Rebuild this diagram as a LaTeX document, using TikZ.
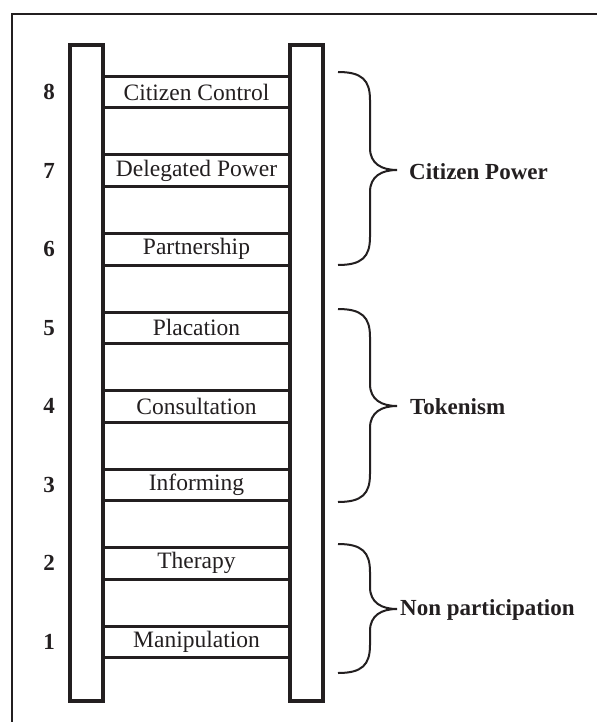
\documentclass[tikz,border=0pt]{standalone}
\usepackage{fontspec}
\setmainfont{Liberation Serif}
\definecolor{ink}{RGB}{35,31,32}
\begin{document}
\begin{tikzpicture}[x=1pt,y=-1pt,
  rungbox/.style={draw=ink, line width=3pt, minimum width=187pt, minimum height=31.5pt, inner sep=0pt, outer sep=0pt, text=ink, font=\fontsize{23.5}{23.5}\selectfont},
  railbox/.style={draw=ink, line width=4pt, minimum width=33pt, minimum height=656pt, inner sep=0pt, outer sep=0pt},
  numlabel/.style={text=ink, font=\bfseries\fontsize{23}{23}\selectfont},
  grouplabel/.style={text=ink, anchor=west, inner sep=0pt, font=\bfseries\fontsize{23}{23}\selectfont},
  bracepath/.style={draw=ink, line width=2pt},
  frameline/.style={draw=ink, line width=2pt}]
\useasboundingbox (0,0) rectangle (597,722);
\fill[white] (0,0) rectangle (597,722);
\draw[frameline] (12,722) -- (12,14.5) -- (597,14.5);
% rungs
\node[rungbox] (r8) at (196.5,92.25) {Citizen Control};
\node[rungbox] (r7) at (196.5,170.75) {Delegated Power};
\node[rungbox] (r6) at (196.5,249.25) {Partnership};
\node[rungbox] (r5) at (196.5,327.75) {Placation};
\node[rungbox] (r4) at (196.5,406.25) {Consultation};
\node[rungbox] (r3) at (196.5,484.75) {Informing};
\node[rungbox] (r2) at (196.5,563.25) {Therapy};
\node[rungbox] (r1) at (196.5,641.75) {Manipulation};
% rails
\node[railbox] (leftrail) at (86.5,373) {};
\node[railbox] (rightrail) at (306.5,373) {};
% numbers
\node[numlabel] (n8) at (49,92.25) {8};
\node[numlabel] (n7) at (49,170.75) {7};
\node[numlabel] (n6) at (49,249.25) {6};
\node[numlabel] (n5) at (49,327.75) {5};
\node[numlabel] (n4) at (49,406.25) {4};
\node[numlabel] (n3) at (49,484.75) {3};
\node[numlabel] (n2) at (49,563.25) {2};
\node[numlabel] (n1) at (49,641.75) {1};
% braces
\draw[bracepath] (338,72) .. controls (362,72) and (370,80) .. (370,100) -- (370,148)
  .. controls (370,164) and (382,170) .. (397,170)
  .. controls (382,170) and (370,176) .. (370,192) -- (370,237)
  .. controls (370,257) and (362,265) .. (338,265);
\draw[bracepath] (338,309) .. controls (362,309) and (370,317) .. (370,337) -- (370,384)
  .. controls (370,400) and (382,406) .. (397,406)
  .. controls (382,406) and (370,412) .. (370,428) -- (370,474)
  .. controls (370,494) and (362,502) .. (338,502);
\draw[bracepath] (338,544) .. controls (362,544) and (370,552) .. (370,572) -- (370,587)
  .. controls (370,603) and (382,609) .. (397,609)
  .. controls (382,609) and (370,615) .. (370,631) -- (370,645)
  .. controls (370,665) and (362,673) .. (338,673);
% group labels
\node[grouplabel] (cp) at (409,172) {Citizen Power};
\node[grouplabel] (tk) at (410,407) {Tokenism};
\node[grouplabel] (np) at (400,610) {Non participation};
\end{tikzpicture}
\end{document}
